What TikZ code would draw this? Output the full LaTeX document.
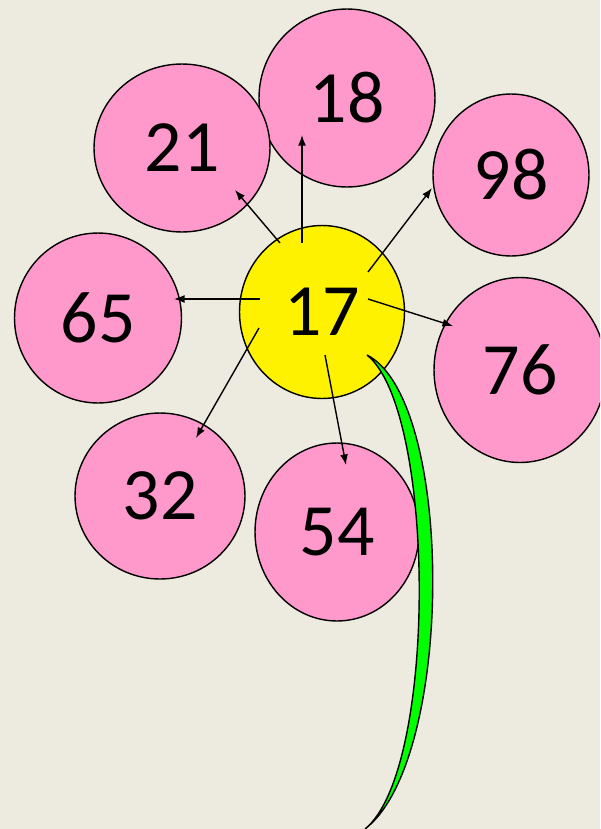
\documentclass[tikz,border=0pt]{standalone}
\usepackage{fontspec}
\setmainfont{Carlito}
\usetikzlibrary{shapes.geometric,arrows.meta}
\definecolor{bg}{HTML}{EDEBE0}
\definecolor{petalpink}{HTML}{FF99CC}
\definecolor{stemgreen}{HTML}{00FF00}
\tikzset{
  petal/.style={ellipse, draw=black, line width=0.8pt, fill=petalpink, inner sep=0pt, font=\fontsize{42}{50}\selectfont},
  core/.style={petal, fill=yellow},
  link/.style={line width=0.8pt, -{Latex[length=6pt,width=4.5pt]}},
}
\begin{document}
\begin{tikzpicture}[x=0.02cm,y=-0.02cm]
\useasboundingbox (0,0) rectangle (600,829);
\fill[bg] (0,0) rectangle (600,829);
\begin{scope}
\clip (0,0) rectangle (600,829);
\node[petal, minimum width=3.52cm, minimum height=3.56cm] (n18) at (347,98) {18};
\node[petal, minimum width=3.52cm, minimum height=3.36cm] (n21) at (182,148) {21};
\node[petal, minimum width=3.12cm, minimum height=3.24cm] (n98) at (511,175) {98};
\node[petal, minimum width=3.34cm, minimum height=3.40cm] (n65) at (98,318) {65};
\node[petal, minimum width=3.44cm, minimum height=3.70cm] (n76) at (520,370) {76};
\node[petal, minimum width=3.40cm, minimum height=3.32cm] (n32) at (160,496) {32};
\node[petal, minimum width=3.28cm, minimum height=3.56cm] (n54) at (337,532) {54};
\node[core, minimum width=3.30cm, minimum height=3.46cm] (n17) at (322,312) {17};
\end{scope}
% arrow end points
\coordinate (s21) at (280,243); \coordinate (e21) at (235,190);
\coordinate (s18) at (302,243); \coordinate (e18) at (302,135);
\coordinate (s98) at (368,272); \coordinate (e98) at (432,188);
\coordinate (s65) at (260,299); \coordinate (e65) at (174,299);
\coordinate (s76) at (368,299); \coordinate (e76) at (453,326);
\coordinate (s32) at (259,328); \coordinate (e32) at (196,438);
\coordinate (s54) at (325,355); \coordinate (e54) at (346,465);
\draw[link] (s21) -- (e21);
\draw[link] (s18) -- (e18);
\draw[link] (s98) -- (e98);
\draw[link] (s65) -- (e65);
\draw[link] (s76) -- (e76);
\draw[link] (s32) -- (e32);
\draw[link] (s54) -- (e54);
% stem
\coordinate (stemtop) at (367,355);
\coordinate (stembot) at (365,829);
\draw[fill=stemgreen, line width=0.8pt] (stemtop)
  .. controls (455,400) and (455,760) .. (stembot)
  .. controls (438,770) and (436,410) .. (stemtop) -- cycle;
\end{tikzpicture}
\end{document}
